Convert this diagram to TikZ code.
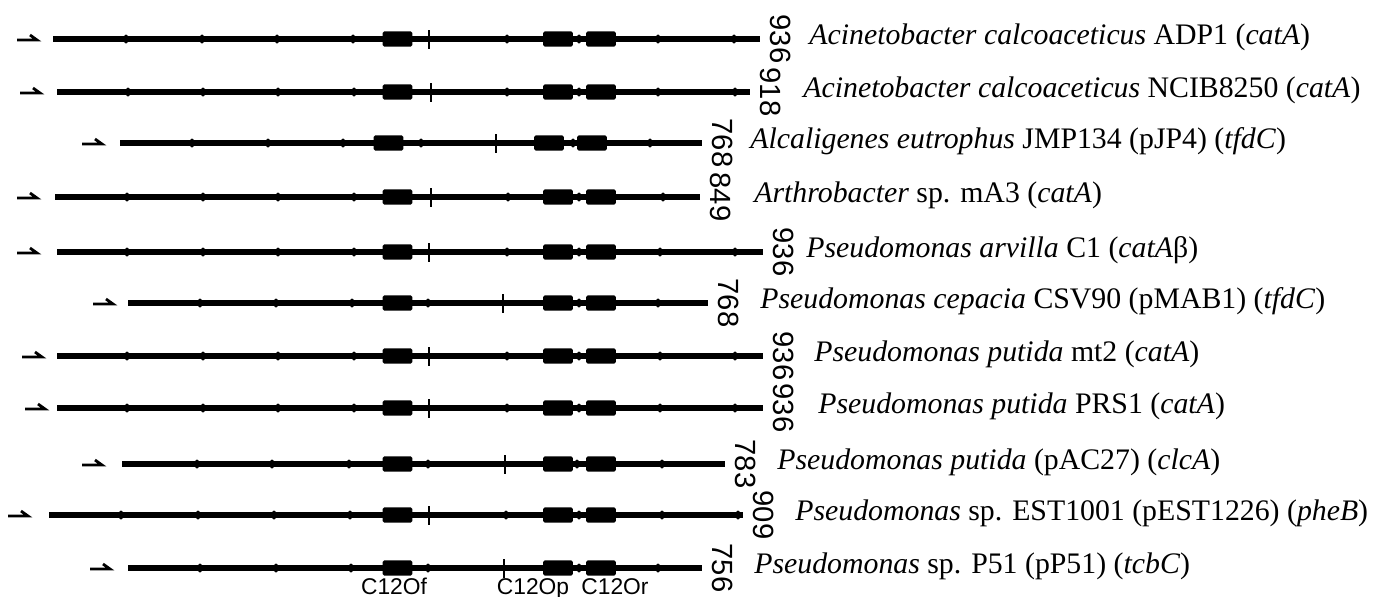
\documentclass[tikz,border=0pt]{standalone}
\usepackage{fontspec}
\setmainfont{Liberation Serif}
\newfontfamily\arial{Liberation Sans}
\usetikzlibrary{shapes.geometric}
\tikzset{
  gene/.style={line width=2.6pt},
  prom/.style={line width=1.4pt},
  blk/.style={fill, rectangle, rounded corners=0.8pt, minimum width=14.8pt, minimum height=7.6pt, inner sep=0pt},
  tickm/.style={fill, rectangle, minimum width=1.2pt, minimum height=9.5pt, inner sep=0pt},
  dotm/.style={fill, ellipse, minimum width=2.4pt, minimum height=4.6pt, inner sep=0pt},
  num/.style={font=\arial\fontsize{14.6}{14.6}\selectfont, rotate=-90, anchor=south, inner sep=0pt},
  sp/.style={font=\fontsize{14.9}{16}\selectfont, anchor=base west, inner sep=0pt},
  lab/.style={font=\arial\fontsize{11.4}{11.4}\selectfont, anchor=base, inner sep=0pt}
}
% #1 name, #2 y, #3 start, #4 end, #5 promoter x, #6 tick x, #7 dots, #8 length, #9 block shift
\newcommand{\GeneRow}[9]{%
  \coordinate (s#1) at (#3,#2);
  \coordinate (e#1) at (#4,#2);
  \draw[gene] (s#1) -- (e#1);
  \coordinate (a#1) at (#5,#2+1);
  \draw[prom] (a#1) -- ++(20,0) -- ++(-7,-5);
  \foreach \x [count=\k] in {#7} \node[dotm] (d#1-\k) at (\x,#2) {};
  \node[tickm] (k#1) at (#6,#2) {};
  \node[blk] (f#1) at (397.5+#9,#2) {};
  \node[blk] (p#1) at (558+#9,#2) {};
  \node[blk] (r#1) at (601+#9,#2) {};
  \node[num] (n#1) at (#4+10,#2) {#8};
}
\begin{document}
\begin{tikzpicture}[x=0.5pt, y=-0.5pt]
\useasboundingbox (0,0) rectangle (1376,596);
\fill[white] (0,0) rectangle (1376,596);

\GeneRow{1}{39}{53}{760}{17}{429}{126,202,277,353,507,579,658,734}{936}{0}
\GeneRow{2}{92}{57}{750}{20}{431}{128,203,278,354,507,579,658,735}{918}{0}
\GeneRow{3}{143}{120}{702}{82}{496}{192,268,343,421,573,650}{768}{-9}
\GeneRow{4}{197}{55}{700}{17}{431}{127,203,278,354,508,579,663}{849}{0}
\GeneRow{5}{252}{57}{763}{17}{429}{127,203,278,354,507,579,660,735}{936}{0}
\GeneRow{6}{303}{128}{708}{93}{503}{200,276,352,428,579,658}{768}{0}
\GeneRow{7}{356}{57}{763}{22}{429}{127,203,278,354,507,579,660,735}{936}{0}
\GeneRow{8}{408}{57}{763}{25}{429}{127,203,278,354,507,579,660,735}{936}{0}
\GeneRow{9}{464}{122}{725}{82}{505}{197,272,349,428,577,662}{783}{0}
\GeneRow{10}{515}{49}{743}{8}{429}{121,198,274,350,506,579,662,738}{909}{0}
\GeneRow{11}{568}{128}{702}{90}{504}{200,276,351,428,579,658}{756}{0}

\node[sp] (t1) at (809,44) {\textit{Acinetobacter calcoaceticus} ADP1 (\textit{catA})};
\node[sp] (t2) at (803,97) {\textit{Acinetobacter calcoaceticus} NCIB8250 (\textit{catA})};
\node[sp] (t3) at (750,148) {\textit{Alcaligenes eutrophus} JMP134 (pJP4) (\textit{tfdC})};
\node[sp] (t4) at (754,202) {\textit{Arthrobacter} sp. mA3 (\textit{catA})};
\node[sp] (t5) at (806,257) {\textit{Pseudomonas arvilla} C1 (\textit{catA}β)};
\node[sp] (t6) at (760,308) {\textit{Pseudomonas cepacia} CSV90 (pMAB1) (\textit{tfdC})};
\node[sp] (t7) at (814,361) {\textit{Pseudomonas putida} mt2 (\textit{catA})};
\node[sp] (t8) at (818,413) {\textit{Pseudomonas putida} PRS1 (\textit{catA})};
\node[sp] (t9) at (777,469) {\textit{Pseudomonas putida} (pAC27) (\textit{clcA})};
\node[sp] (t10) at (795,520) {\textit{Pseudomonas} sp. EST1001 (pEST1226) (\textit{pheB})};
\node[sp] (t11) at (754,573) {\textit{Pseudomonas} sp. P51 (pP51) (\textit{tcbC})};

\node[lab] (lf) at (394,594) {C12Of};
\node[lab] (lp) at (533,594) {C12Op};
\node[lab] (lr) at (615,594) {C12Or};
\end{tikzpicture}
\end{document}
